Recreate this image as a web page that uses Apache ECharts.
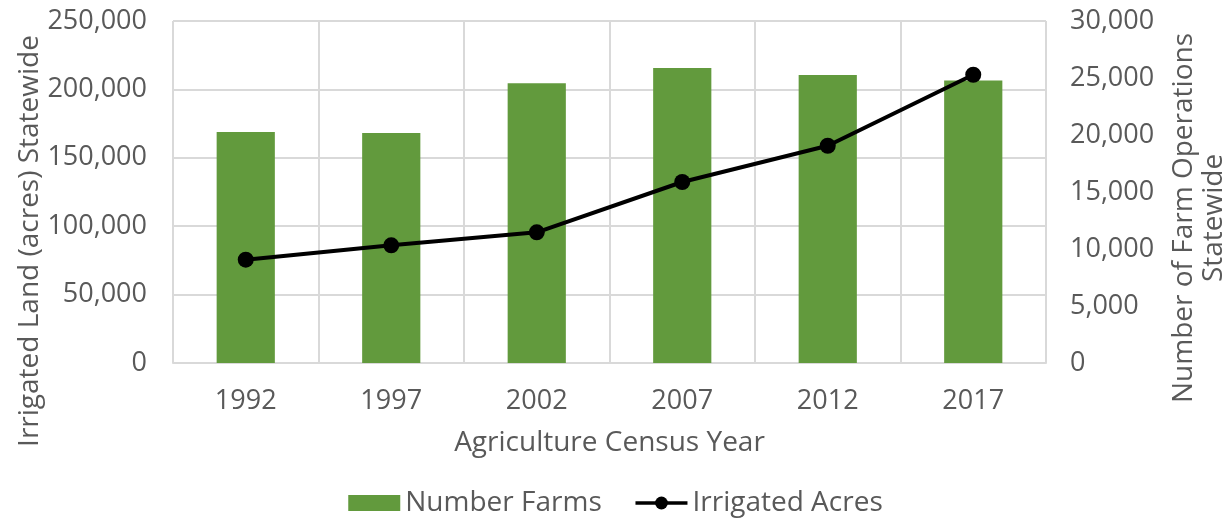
<!DOCTYPE html>
<html><head><meta charset="utf-8">
<script src="https://cdn.jsdelivr.net/npm/echarts@6/dist/echarts.min.js"></script>
<style>html,body{margin:0;padding:0;background:#fff}#c{width:1231px;height:518px}</style>
</head><body><div id="c"></div>
<script>
const years = ['1992','1997','2002','2007','2012','2017'];
const numberFarms = [20260, 20180, 24530, 25880, 25260, 24770];
const irrigatedAcres = [75500, 86000, 95500, 132300, 158800, 210700];
const leftTicks = [0, 250000, 50000];
const rightTicks = [0, 30000, 5000];
const leftName = 'Irrigated Land (acres) Statewide';
const rightName = 'Number of Farm Operations\nStatewide';
const xName = 'Agriculture Census Year';

const FONT = 'Open Sans';
const TXT = '#595959';
const FS = 27;
const NFS = 28;
const fmt = v => v.toLocaleString('en-US');
const chart = echarts.init(document.getElementById('c'));
chart.setOption({
  animation: false,
  textStyle: {fontFamily: FONT, color: TXT},
  grid: {left: 173, right: 185, top: 21, bottom: 155, containLabel: false, outerBoundsMode: 'none'},
  legend: {
    bottom: 1, left: 'center', padding: 0, itemGap: 32, itemWidth: 52, itemHeight: 16,
    textStyle: {fontFamily: FONT, fontSize: NFS, color: TXT, padding: [0,0,0,0]},
    lineStyle: {width: 3.5},
    data: [{name: 'Number Farms', icon: 'rect'}, {name: 'Irrigated Acres'}]
  },
  graphic: [{
    type: 'text', x: 30, y: 241, rotation: Math.PI / 2,
    style: {text: leftName, font: NFS + 'px "' + FONT + '"', fill: TXT, align: 'center', verticalAlign: 'middle'}
  }, {
    type: 'text', x: 1199, y: 218, rotation: Math.PI / 2,
    style: {text: rightName, font: NFS + 'px "' + FONT + '"', fill: TXT, align: 'center', verticalAlign: 'middle', lineHeight: 30}
  }],
  xAxis: {
    type: 'category', data: years, boundaryGap: true,
    name: xName, nameLocation: 'middle', nameGap: 66,
    nameTextStyle: {fontFamily: FONT, fontSize: NFS, color: TXT},
    axisLine: {lineStyle: {color: '#D9D9D9', width: 2}},
    axisTick: {show: false},
    axisLabel: {fontFamily: FONT, fontSize: FS, color: TXT, margin: 25},
    splitLine: {show: true, lineStyle: {color: '#D9D9D9', width: 2}}
  },
  yAxis: [{
    type: 'value', min: leftTicks[0], max: leftTicks[1], interval: leftTicks[2],
    axisLine: {show: false}, axisTick: {show: false},
    axisLabel: {fontFamily: FONT, fontSize: FS, color: TXT, margin: 26, formatter: fmt},
    splitLine: {lineStyle: {color: '#D9D9D9', width: 2}}
  }, {
    type: 'value', min: rightTicks[0], max: rightTicks[1], interval: rightTicks[2],
    axisLine: {show: false}, axisTick: {show: false},
    axisLabel: {fontFamily: FONT, fontSize: FS, color: TXT, margin: 24, formatter: fmt},
    splitLine: {show: false}
  }],
  series: [{
    name: 'Number Farms', type: 'bar', yAxisIndex: 1, data: numberFarms,
    barWidth: '40%', itemStyle: {color: '#629A3D'}
  }, {
    name: 'Irrigated Acres', type: 'line', yAxisIndex: 0, data: irrigatedAcres,
    symbol: 'circle', symbolSize: 16, lineStyle: {color: '#000', width: 4},
    itemStyle: {color: '#000'}
  }]
});
</script></body></html>
